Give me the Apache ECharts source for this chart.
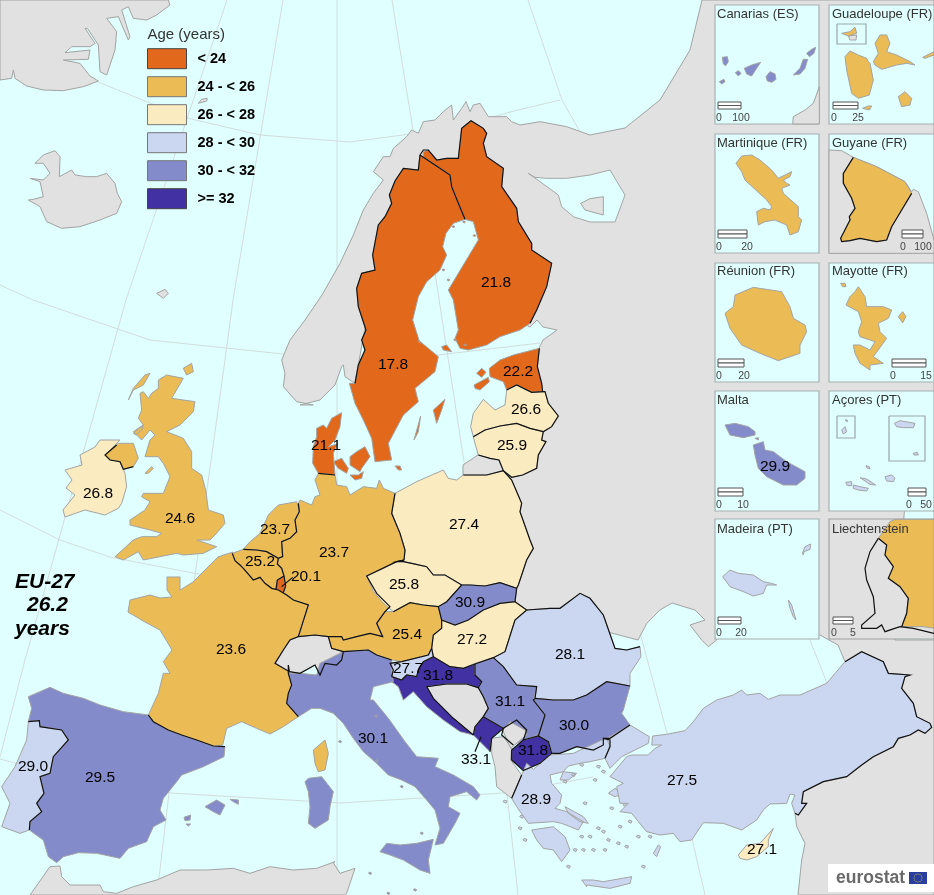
<!DOCTYPE html>
<html>
<head>
<meta charset="utf-8">
<title>Age (years)</title>
<style>html,body{margin:0;padding:0;background:#e0ffff}#chart_container{width:934px;height:895px}</style>
<script src="https://cdn.jsdelivr.net/npm/echarts@6/dist/echarts.min.js"></script>
</head>
<body>
<div id="chart_container"></div>
<script>
"use strict";

// the figures printed on the map
const countries = ['Finland','Sweden','Estonia','Latvia','Lithuania','Denmark','Poland','United Kingdom','Ireland','Netherlands','Germany','Belgium','Luxembourg','Czechia','Austria','Slovakia','Hungary','Romania','Slovenia','Croatia','Serbia','Bulgaria','North Macedonia','Montenegro','Italy','Spain','Portugal','France','Greece','Turkey','Cyprus','Malta'];
const ages = [21.8,17.8,22.2,26.6,25.9,21.1,27.4,24.6,26.8,23.7,23.7,25.2,20.1,25.8,25.4,30.9,27.2,28.1,27.7,31.8,31.1,30.0,31.8,33.1,30.1,29.5,29.0,23.6,28.9,27.5,27.1,29.9];
// legend class as coloured on the map (index into classLabels)
const ageClass = [0,0,0,2,2,0,2,1,2,1,1,1,0,2,1,4,2,3,3,5,4,4,5,5,4,4,3,1,3,3,2,4];
const classLabels = ['< 24','24 - < 26','26 - < 28','28 - < 30','30 - < 32','>= 32'];
const classColors = ['#e2681b','#ebbc55','#fbebc0','#cbd7f0','#838bcb','#4131a2'];

const labelAt = [[496,283],[393,365],[518,372],[526,410],[512,446],[326,446],[464,525],[180,519],[98,494],[275,530],[334,553],[260,562],[306,577],[404,585],[407,635],[470,603],[472,640],[570,655],[408,669],[438,676],[510,702],[574,726],[533,751],[476,760],[373,739],[100,778],[33,767],[231,650],[536,800],[682,781],[762,850],[775,467]];

const insetTitles = [['Canarias (ES)',717,14],['Guadeloupe (FR)',832,14],['Martinique (FR)',717,143],['Guyane (FR)',832,143],['Réunion (FR)',717,271],['Mayotte (FR)',832,271],['Malta',717,400],['Açores (PT)',832,400],['Madeira (PT)',717,529],['Liechtenstein',832,529]];
// x0, x1, y0, y1, right hand label
const scaleBars = [[718,741,102,109,'100'],[833,858,102,109,'25'],[718,747,230,238,'20'],[902,923,230,238,'100'],[718,744,359,367,'20'],[892,926,359,367,'15'],[718,743,488,496,'10'],[908,926,488,496,'50'],[718,741,617,624,'20'],[833,853,617,624,'5']];
const insetFrames = [[715,5,819,124],[829,5,934,124],[715,134,819,253],[829,134,934,253],[715,263,819,382],[829,263,934,382],[715,391,819,511],[829,391,934,511],[715,519,819,639]];

const crops = {0:[0,0,1],1:[0,0,3],2:[340,100,3],3:[300,340,3],4:[100,360,3],5:[200,500,3],6:[360,560,3],7:[0,660,3],8:[320,680,3],9:[560,640,3],10:[710,0,3],11:[710,255,3],12:[710,510,3]};
function trace(s) {
    let o = crops[0], out = [];
    s.trim().split(/\s+/).forEach(t => {
        if (t[0] === '@') { o = crops[t.slice(1)]; return; }
        let p = t.split(',').map(Number);
        out.push([o[0] + p[0] / o[2], o[1] + p[1] / o[2]]);
    });
    return out;
}
function rect(r) { return [[r[0],r[1]],[r[2],r[1]],[r[2],r[3]],[r[0],r[3]]]; }
function islets(size, s) {
    return trace(s).map(c => [[c[0]-size,c[1]],[c[0]-size*0.4,c[1]-size*0.8],[c[0]+size,c[1]-size*0.3],[c[0]+size*0.5,c[1]+size*0.8]]);
}

const backLand = {
    Greenland: ['@1 0,240 35,235 40,210 45,235 80,258 130,270 190,272 250,260 295,243 270,228 240,190 190,180 265,178 270,150 195,158 215,140 270,140 285,130 255,85 262,85 295,135 300,215 320,225 345,150 350,95 320,55 355,50 385,120 390,110 365,30 385,20 400,55 440,60 470,45 510,15 505,0 0,0'],
    Iceland: ['@1 85,600 100,598 130,590 120,545 90,535 130,540 140,530 150,520 130,490 105,490 130,465 165,452 180,470 178,530 215,510 225,525 260,530 290,530 320,520 345,550 352,580 365,605 350,640 300,660 240,680 185,685 140,665 120,620',
        '@1 470,880 495,868 505,880 490,895', '@1 595,310 605,298 622,295 620,303'],
    Africa: ['@7 90,705 150,620 180,618 185,650 210,675 300,675 310,695 350,700 400,680 470,660 540,630 620,630 700,625 750,640 810,620 880,630 950,625 1005,605 @8 40,548 60,580 105,565 80,640 75,645'],
    East: ['@3 165,130 135,110 130,75 125,80 105,135 60,180 0,195 @4 640,135 590,125 550,80 555,40 545,0 @0 290,340 305,320 322,295 @2 0,490 40,405 70,330 100,280 130,240 100,215 130,170 150,170 160,145 200,110 215,90 235,100 250,65 285,60 310,35 335,15 340,60 365,25 378,5 390,35 400,15 420,10 445,50 500,50 515,65 540,75 600,65 680,80 750,105 @0 625,128 660,100 690,50 702,0 934,0 934,895 798,895 @9 725,660 735,610 710,560 705,520 700,480 800,300 855,65 @0 838,645 820,635 760,625 717,630 @9 470,0 445,20 425,0 @0 690,625 705,620 695,610 685,607 672,603 660,610 647,623 638,640 600,630 560,625 500,610 500,560 500,500 480,480 463,475 463,465 478,455 510,450 530,400 530,360 539,348 543,340 557,330 543,327 537,320 530,327 500,310 470,190 410,190 370,300']
};
const water = {
    WhiteSea: ['@2 565,220 585,232 620,235 680,235 750,225 @0 610,170 625,195 615,222 590,222 @2 750,365 700,350 665,320 655,285 600,245'],
    Caspian: ['905,505 934,500 934,640 895,640 900,560']
};
const outsideEU = {
    Onega: ['@2 722,310 750,296 790,290 790,345 735,330'],
    Switzerland: ['@5 225,490 250,450 270,420 295,410 345,405 385,410 395,445 430,455 425,480 410,495 375,490 360,525 345,495 300,520 268,515'],
    Bosnia: ['@6 200,380 260,372 320,372 355,383 370,410 385,445 370,470 345,500 340,525 280,475 220,415'],
    Albania: ['@8 515,175 550,170 575,205 572,240 605,285 590,320 575,355 530,320 525,260 515,220'],
    Andorra: ['@7 590,238 603,238 605,247 592,246']
};
const insetGrey = {
    CanariasAfrica: ['@10 248,372 250,350 285,330 310,310 328,260 328,372'],
    GuyaneLand: ['@10 357,450 395,452 430,472 500,500 585,545 605,575 610,568 625,575 650,640 672,720 672,760 357,760'],
    SaintMartinNL: ['@10 415,108 440,105 438,120 420,120'],
    LiechtensteinBox: [rect([829,519,934,639])]
};

const countryShapes = {
    Finland: ['@2 250,155 265,150 290,180 320,175 355,175 365,85 393,62 430,85 440,100 430,130 440,170 490,205 485,260 530,325 535,365 575,430 575,450 635,490 620,560 590,630 570,670 540,690 480,710 440,735 385,750 360,745 345,715 355,690 340,600 325,570 355,520 385,470 415,420 400,365 375,358 355,310 335,260 330,225 285,195 250,170',
        '@3 425,20 440,15 455,35 430,30', ...islets(1.3,'@2 403,407 340,380 372,366 310,510 325,540 345,720 375,735')],
    Sweden: ['@2 240,165 285,195 330,225 335,260 355,310 375,358 340,370 318,400 308,440 320,465 300,510 260,545 235,590 218,660 240,730 @3 355,0 415,50 405,95 345,145 355,185 310,225 265,310 275,360 225,365 215,295 190,240 165,190 148,130 165,130 175,75 195,30 185,0 @2 78,690 55,620 50,565 65,520 105,510 98,465 115,375 135,350 155,310 148,285 165,243 190,205 235,210',
        '@3 400,210 435,178 425,210 410,250', '@3 342,300 362,228 355,275', '@3 285,378 300,378 305,390 295,390'],
    Estonia: ['@3 568,85 600,60 640,45 718,25 712,80 725,130 728,155 695,157 650,135 620,150 610,125 570,110', '@3 522,135 565,112 568,125 540,150 525,145', '@3 530,100 545,85 558,97 545,112'],
    Latvia: ['@3 512,260 520,220 550,178 585,210 615,195 620,150 650,135 695,157 735,155 745,190 775,228 755,260 730,275 690,265 650,250 600,258 555,270 520,290'],
    Lithuania: ['@3 520,290 555,270 600,258 650,250 690,265 730,275 725,300 738,305 715,345 710,385 668,405 635,412 610,392 597,360 570,355 535,345 525,310'],
    Denmark: ['@3 50,265 70,255 80,265 95,235 125,218 120,260 105,300 85,320 112,312 100,340 105,405 55,400 38,370 40,320 50,290', '@3 100,365 125,355 145,385 140,400 115,385', '@3 150,350 170,335 195,320 210,350 185,385 180,395 150,375', '@3 150,405 175,405 190,395 185,415 165,420'],
    Poland: ['@3 285,460 350,425 430,390 445,415 470,420 490,405 560,405 610,392 635,420 665,490 660,515 690,600 700,625 @6 500,0 475,75 470,85 420,68 375,78 330,75 305,75 255,45 220,45 200,20 155,10 130,5 110,5 @5 612,180 615,150 600,100 575,40'],
    'United Kingdom': ['@4 175,60 200,45 250,55 215,115 285,125 280,155 240,195 200,215 250,235 275,275 275,325 305,345 318,395 325,450 370,465 375,490 345,525 330,540 290,540 350,560 310,580 250,585 230,580 180,590 130,600 115,575 70,600 45,590 100,540 125,530 170,530 185,520 150,510 90,495 90,480 135,450 150,425 125,410 130,400 190,400 210,350 190,310 175,290 135,290 150,240 165,225 150,210 125,240 100,215 130,195 115,175 125,150 120,100 130,95 145,115 155,100 175,85',
        '@4 85,120 100,85 135,45 150,40 130,75 100,90', '@4 15,285 55,250 100,250 115,295 100,320 70,328 60,305 30,300', '@4 135,340 155,320 160,325 145,340', '@4 250,25 275,10 280,35 260,45', '@4 100,220 130,195 125,210 108,225'],
    Ireland: ['@4 60,240 15,285 30,300 60,305 70,328 75,340 80,380 65,430 55,445 @0 105,515 85,510 65,517 63,510 75,495 66,488 72,480 65,470 82,465 80,455 95,447 100,440'],
    Netherlands: ['@5 130,148 150,125 180,100 205,45 235,15 290,5 298,35 285,60 290,95 270,115 245,125 248,170 235,175 200,155 170,150'],
    Germany: ['@3 0,480 35,495 45,470 60,465 45,420 55,400 105,405 110,435 140,440 150,465 190,440 230,445 238,420 250,445 285,460 @5 575,40 600,100 615,150 612,180 590,185 500,228 530,280 570,320 555,335 530,370 548,410 510,400 470,410 430,420 425,410 385,410 345,405 295,410 325,315 280,300 260,285 250,278 257,258 250,228 245,205 232,192 235,175 248,170 245,125 270,115 290,95 285,60 298,35 295,10'],
    Belgium: ['@5 97,160 130,148 170,150 200,155 235,175 232,192 245,205 252,228 232,240 228,268 215,265 195,250 180,232 160,240 130,205 120,195 105,182'],
    Luxembourg: ['@5 232,240 250,228 257,258 250,278 232,272 228,265'],
    Czechia: ['@6 20,48 60,30 110,5 130,5 155,10 200,20 220,45 255,45 305,75 260,125 235,140 190,135 150,128 100,155 70,130 40,95'],
    Austria: ['@6 100,155 150,128 190,135 235,140 245,180 245,205 220,225 215,265 205,285 125,305 96,300 @5 530,465 505,450 430,455 395,445 385,410 425,410 430,420 470,410 510,400 548,410 530,370 555,335',
        '@12 505,85 540,35 555,28 672,28 672,355 640,350 600,350 575,350 590,310 595,265 570,230 535,205 550,170 525,135 530,105'],
    Slovakia: ['@6 305,75 330,75 375,78 420,68 470,85 465,125 420,130 370,150 325,180 285,195 245,180 235,140 260,125'],
    Hungary: ['@6 245,180 285,195 325,180 370,150 420,130 465,125 500,150 465,180 435,275 400,293 345,310 310,325 270,320 220,290 215,265 220,225 245,205'],
    Romania: ['@6 400,293 435,275 465,180 500,150 570,145 600,145 660,100 690,115 730,165 765,265 800,270 840,260 843,290 810,340 810,378 740,365 680,405 640,420 580,420 525,415 530,380 470,375 430,320'],
    Slovenia: ['@6 90,310 125,305 205,285 215,265 220,290 190,305 175,330 170,350 140,345 125,360 95,350 100,330'],
    Croatia: ['@6 190,305 220,290 270,320 310,325 345,312 345,345 365,365 355,383 320,372 260,372 200,380 220,415 280,475 340,525 300,515 250,480 200,440 160,395 130,420 115,380 95,365 95,350 125,360 140,345 170,350 175,330'],
    Serbia: ['@6 345,312 400,293 430,320 470,375 530,380 520,420 555,465 535,525 490,540 460,555 430,505 370,470 385,445 370,410 355,383 365,365 345,345'],
    Bulgaria: ['@6 525,415 580,420 640,420 680,405 740,365 810,378 790,450 785,460 810,495 750,535 730,535 730,555 700,570 650,560 600,580 575,580 565,545 535,528 555,465 520,420'],
    'North Macedonia': ['@6 455,570 490,540 535,528 565,545 575,580 540,610 490,632 455,600'],
    Montenegro: ['@6 370,470 430,505 395,535 390,575 340,525 345,500'],
    Italy: ['@5 265,520 300,520 350,525 360,490 430,455 505,450 530,465 575,480 575,510 580,545 520,560 510,600 @8 160,60 205,115 255,185 290,230 355,235 345,260 400,285 460,320 480,345 470,360 440,335 390,350 385,380 420,400 405,430 370,490 345,495 360,445 345,390 320,360 285,320 245,300 205,285 170,250 130,215 100,175 70,130 40,100 0,85 @7 935,145 895,170 860,130 865,100 875,75 865,40',
        '@8 180,515 200,490 240,495 290,490 340,478 325,540 330,580 300,570 250,540 210,525', '@7 915,365 925,355 965,350 1000,395 990,440 985,480 945,505 925,490 930,440 925,395', ...islets(1.5,'@8 60,185 245,320 305,460 205,640 285,630 150,580 170,243 168,108')],
    Spain: ['@7 85,110 150,82 190,100 250,115 300,135 370,155 445,165 460,185 505,210 545,225 590,240 640,258 675,260 672,290 610,320 545,345 530,365 490,415 480,450 498,480 460,500 440,545 385,565 360,595 290,580 235,578 190,590 170,608 145,590 130,540 88,510 90,485 125,455 110,430 132,400 120,350 150,340 160,290 205,240 185,210 120,200 118,182 85,185 95,145',
        '@7 615,440 650,420 675,435 660,465 640,455', '@7 690,418 715,420 715,433 700,425', '@7 552,472 572,465 570,480 555,482', '@7 558,492 572,492 565,498',
        '@10 28,245 42,238 45,245 35,252', '@10 37,172 52,170 55,185 47,197 40,192', '@10 76,218 85,212 93,220 85,228', '@10 103,205 125,195 152,187 140,205 125,228 110,222', '@10 168,230 180,215 195,222 198,238 185,247 172,243', '@10 250,225 270,205 280,178 293,178 285,205 270,222', '@10 290,160 305,148 317,142 312,160 298,170'],
    Portugal: ['@7 85,185 118,182 120,200 185,210 205,240 160,290 150,340 120,350 132,400 110,430 125,455 90,485 88,510 60,520 5,500 30,430 15,400 5,380 45,320 80,240',
        '@11 395,525 405,515 410,530 400,537', '@11 405,495 412,495 412,500', '@11 553,505 570,497 615,505 610,518 580,518 560,515', '@11 610,595 622,592 625,600 612,600', '@11 468,632 478,635 480,642 470,638', '@11 450,668 470,672 497,690 480,688', '@11 525,665 545,660 555,670 550,680 530,678', '@11 407,682 425,680 425,692 412,692', '@11 430,690 450,695 475,700 470,708 445,705 430,700',
        '@12 38,200 60,180 85,190 130,195 160,215 185,220 200,225 170,225 160,250 130,258 100,245 60,230', '@12 277,130 285,110 302,102 300,118 282,125 280,135', '@12 235,270 245,285 258,330 250,320 240,295'],
    France: ['@7 445,165 475,100 490,40 510,40 490,5 @0 172,650 160,630 145,622 128,612 130,600 150,595 160,598 172,597 167,590 167,577 180,577 180,590 193,582 218,557 233,552 @5 97,160 105,182 120,195 130,205 160,240 180,232 195,250 215,265 235,270 260,285 280,300 325,315 295,410 270,420 250,450 225,490 268,515 @7 865,15 865,40 875,75 865,100 860,130 895,170 850,200 810,222 770,205 725,185 680,205 668,255 640,258 590,240 545,225 505,210 460,185',
        '@7 940,270 975,240 985,280 975,330 955,335 945,310',
        '@10 405,170 420,153 445,165 470,175 475,185 480,190 490,240 478,285 445,295 425,280 410,210', '@10 490,185 505,160 495,130 510,105 530,105 540,130 530,155 560,165 600,185 615,195 590,190 560,195 515,208 495,195', '@10 565,290 585,275 605,295 600,315 575,320', '@10 458,325 475,318 485,318 478,330', '@10 638,172 672,155 672,165 645,175', '@10 395,100 420,95 435,82 440,100 415,108',
        '@10 78,490 95,468 125,465 150,480 185,510 205,535 225,525 245,515 240,530 220,540 230,550 240,555 215,565 220,580 265,620 265,650 275,660 265,695 240,705 230,675 195,660 165,665 145,675 140,635 160,625 180,630 185,620 170,600 105,540 95,515',
        '@10 430,472 500,500 585,545 605,580 575,630 545,680 530,720 500,725 450,715 420,722 395,725 392,715 420,660 418,650 435,625 425,595 400,550 400,520',
        '@11 45,175 70,155 75,120 130,97 215,110 240,155 250,190 285,210 290,230 270,270 270,295 205,317 150,295 95,270 60,220',
        '@11 408,150 420,125 435,110 445,95 465,125 470,155 520,155 545,165 535,190 505,205 510,230 530,250 490,305 520,325 480,330 480,345 450,325 435,295 430,270 450,270 480,285 495,260 450,245 445,230 455,200 445,170', '@11 565,185 578,170 588,185 578,203', '@11 392,85 405,85 408,95 398,95'],
    Greece: ['@8 575,355 605,285 620,250 640,268 690,225 760,220 850,178 870,175 870,195 855,235 810,245 780,250 745,258 730,275 690,285 695,310 725,345 720,370 705,385 740,395 790,425 775,450 725,430 700,425 625,430 590,380',
        '@8 730,275 770,280 745,300 720,300', '@8 635,450 700,440 735,470 750,510 725,545 700,510 670,505 650,480', '@8 735,380 790,410 805,430 780,425 745,400',
        '@9 65,720 100,720 130,725 215,710 210,730 150,745 80,735 @8 800,620 785,600', '@9 145,460 165,445 188,462 165,470', '@9 280,640 295,615 302,620 290,650',
        ...islets(2,'@9 65,375 115,380 130,395 105,420 40,405 15,425 75,490 155,505 195,495 210,545 180,560 115,565 130,575 90,590 65,590 145,600 175,610 235,590 270,590 100,630 135,630 200,620 250,680 25,680 70,630 45,630 @8 555,365 600,445 615,480 605,410')],
    Turkey: ['@9 278,288 320,283 375,272 400,245 430,205 470,180 520,165 545,150 560,165 600,160 625,178 660,165 720,165 800,130 855,65 905,35 970,65 985,100 1050,105 1035,110 1025,145 1060,190 1070,230 1110,250 1115,262 1095,280 1075,270 1050,285 1015,295 1000,320 940,350 905,375 860,410 790,425 730,455 725,490 740,490 715,525 705,520 695,490 705,465 690,462 680,490 630,492 610,510 590,540 545,570 490,550 430,548 395,600 360,605 340,580 300,585 260,575 235,545 215,520 180,515 205,490 180,490 170,440 190,430 150,410 200,350 215,345 265,345 285,325 305,315 275,315',
        '@9 140,295 210,255 268,290 265,310 225,330 185,350 150,385 135,355 150,320'],
    Cyprus: ['@9 535,645 560,615 600,610 640,565 625,600 625,620 590,650 560,660 540,655'],
    Malta: ['@11 45,510 75,505 115,515 135,530 135,540 100,548 60,540', '@11 135,550 145,548 145,555', '@11 130,570 160,560 165,585 190,590 230,620 285,650 285,670 260,690 220,690 170,665 145,640 135,600']
};
const lateGrey = {Kosovo: ['@8 548,150 570,125 615,150 620,165 595,185 572,205']};

const graticule = [
    '227,0 126,300 25,660 0,757',
    '283,0 233,300 225,360 193,590 165,827 157,895',
    '337,0 337,895',
    '392,0 413,130 435,273 465,468 508,803 518,895',
    '528,0 562,100 579,130 810,640 827,683',
    '590,440 642,640 667,733 693,843 705,895',
    '98,82 187,118 260,135 350,142 403,135 483,120 510,112 560,100',
    '0,285 33,300 150,340 340,360 438,355 540,343',
    '0,510 60,540 110,557 193,573 300,590',
    '0,759 40,770 170,793 340,803 503,793 560,783 593,777'
];
const borderLines = [
    '@3 165,130 175,75 195,30 185,0 @2 78,690 55,620 50,565 65,520 105,510 98,465 115,375 135,350 155,310 148,285 165,243 190,205 235,210 240,165',
    '@2 240,165 285,195 330,225 335,260 355,310 375,358',
    '@2 240,165 250,150 265,150 290,180 320,175 355,175 365,85 393,62 430,85 440,100 430,130 440,170 490,205 485,260 530,325 535,365 575,430 575,450 635,490 620,560 590,630 570,670',
    '@3 718,25 712,80 725,130 728,155 695,157 650,135 620,150',
    '@3 728,155 735,155 745,190 775,228 755,260 730,275 725,300 738,305 715,345 710,385 668,405 635,412 610,392 597,360 570,355 535,345',
    '@3 520,290 555,270 600,258 650,250 690,265 730,275',
    '@3 490,405 560,405 610,392 635,420 665,490 660,515 690,600 700,625 @6 500,0 475,75 470,85 420,68 375,78 330,75 305,75 255,45 220,45 200,20 155,10 130,5 110,5 @5 612,180 615,150 600,100 575,40 @3 285,460',
    '@3 55,400 105,405',
    '@4 50,255 15,285 30,300 60,305 70,328 100,320',
    '@7 85,185 118,182 120,200 185,210 205,240 160,290 150,340 120,350 132,400 110,430 125,455 90,485 88,510',
    '@7 445,165 460,185 505,210 545,225 590,240 640,258 675,260',
    '@5 97,160 105,182 120,195 130,205 160,240 180,232 195,250 215,265 235,270 260,285 280,300 325,315 295,410 270,420 250,450 225,490 268,515 @7 865,15 865,40 875,75 865,100 860,130 895,170',
    '@5 268,515 300,520 345,495 360,525 375,490 410,495 425,480 430,455 505,450 530,465 575,480',
    '@5 295,410 345,405 385,410 395,445 430,455',
    '@5 385,410 425,410 430,420 470,410 510,400 548,410 530,370 555,335 570,320 530,280 500,228 590,185 612,180',
    '@5 130,148 170,150 200,155 235,175 248,170 245,125 270,115 290,95 285,60 298,35 295,10',
    '@5 235,175 232,192 245,205 252,228 257,258 250,278',
    '@5 252,228 232,240 228,268',
    '@6 305,75 260,125 235,140 190,135 150,128 100,155',
    '@6 470,85 465,125 420,130 370,150 325,180 285,195 245,180 235,140',
    '@6 245,180 245,205 220,225 215,265 205,285 125,305 90,310 100,330 95,350',
    '@6 95,350 125,360 140,345 170,350 175,330 190,305 220,290 215,265',
    '@6 220,290 270,320 310,325 345,312 400,293 435,275 465,180 500,150 465,125',
    '@6 500,150 570,145 600,145 660,100 690,115 730,165 765,265 800,270 840,260',
    '@6 400,293 430,320 470,375 530,380 525,415',
    '@6 525,415 580,420 640,420 680,405 740,365 810,378',
    '@6 345,312 345,345 365,365 355,383 320,372 260,372 200,380 220,415 280,475 340,525',
    '@6 355,383 370,410 385,445 370,470 345,500 340,525',
    '@6 370,470 430,505 395,535 390,575',
    '@6 525,415 520,420 555,465 535,528',
    '@6 455,570 490,540 535,528 565,545 575,580 540,610 490,632 455,600 455,570',
    '@6 430,505 425,525 460,555',
    '@6 430,505 470,480 500,510 490,540',
    '@8 605,285 590,320 575,355',
    '@6 575,580 600,580 650,560 700,570 730,555 730,535 750,535 810,495',
    '@9 130,295 150,300 150,320 135,355',
    '@9 855,65 905,35 970,65 985,100 1050,105 1035,110 1025,145 1060,190 1070,230 1110,250 1115,262 1095,280 1075,270 1050,285 1015,295 1000,320 940,350 905,375 860,410 790,425 730,455 725,490 740,490 715,525 705,520',
    // leader lines of the small countries
    '@5 245,260 278,232', '@8 483,170 465,215',
    // inset borders
    '@10 430,472 400,520 400,550 425,595 435,625 418,650 420,660 392,715 395,725 420,722 450,715 500,725 530,720 545,680 575,630 605,580',
    '@12 505,85 480,125 465,175 470,210 490,260 495,310 455,345 455,355 500,355 515,345 525,365 570,350 610,355 672,370',
    '@12 505,85 530,105 525,135 550,170 535,205 570,230 595,265 590,310 575,350'
];
const subFrames = [[837,24,866,44],[837,416,855,438],[889,416,925,461]];

// ---- build the map
let feature = (name, rings) => ({
    type: 'Feature', properties: {name: name},
    geometry: {type: 'MultiPolygon', coordinates: rings.map(r => {
        let pts = typeof r === 'string' ? trace(r) : r;
        return [pts.concat([pts[0]])];
    })}
});
let features = [];
let addAll = obj => Object.keys(obj).forEach(k => features.push(feature(k, obj[k])));
addAll(backLand);
addAll(water);
addAll(outsideEU);
features.push(feature('frames', insetFrames.map(rect)));
addAll(insetGrey);
addAll(countryShapes);
addAll(lateGrey);
echarts.registerMap('europe', {type: 'FeatureCollection', features: features});

let seaRegion = n => ({name: n, itemStyle: {areaColor: '#e0ffff', borderColor: '#a6a6a6'}});
let regions = Object.keys(water).map(seaRegion);
regions.push({name: 'frames', itemStyle: {areaColor: '#e0ffff', borderColor: '#a8b0b0', borderWidth: 1.2}});
regions.push({name: 'LiechtensteinBox', itemStyle: {areaColor: '#e1e1e1', borderColor: '#a0a0a0', borderWidth: 1.2}});

let chartDom = document.getElementById('chart_container');
let myChart = echarts.init(chartDom);

const ff = '"Liberation Sans", Arial, sans-serif';
let graphics = [];
let txt = (text, x, y, size, extra) => graphics.push({type: 'text', silent: true, z: 20, x: x, y: y,
    style: Object.assign({text: text, font: size + 'px ' + ff, fill: '#333', verticalAlign: 'middle', align: 'left'}, extra || {})});

txt('Age (years)', 147.5, 35, 15);
classLabels.forEach((c, i) => graphics.push({type: 'rect', silent: true, z: 20,
    shape: {x: 147.5, y: 48.7 + i * 28, width: 39, height: 20},
    style: {fill: null, stroke: i === 5 || i === 0 ? '#444' : '#777', lineWidth: 1}}));
txt('EU-27', 15, 582, 21, {font: 'italic bold 21px ' + ff, fill: '#000'});
txt('26.2', 27, 605, 21, {font: 'italic bold 21px ' + ff, fill: '#000'});
txt('years', 15, 629, 21, {font: 'italic bold 21px ' + ff, fill: '#000'});
insetTitles.forEach(t => txt(t[0], t[1], t[2], 13));
scaleBars.forEach(b => {
    graphics.push({type: 'rect', silent: true, z: 20, shape: {x: b[0], y: b[2], width: b[1] - b[0], height: (b[3] - b[2]) / 2}, style: {fill: '#fff', stroke: '#555', lineWidth: 1}});
    graphics.push({type: 'rect', silent: true, z: 20, shape: {x: b[0], y: (b[2] + b[3]) / 2, width: b[1] - b[0], height: (b[3] - b[2]) / 2}, style: {fill: '#fff', stroke: '#555', lineWidth: 1}});
    txt('0', b[0] + 1, b[3] + 9, 10.5, {align: 'center', fill: '#444'});
    txt(b[4], b[1], b[3] + 9, 10.5, {align: 'center', fill: '#444'});
});
// eurostat logo
graphics.push({type: 'rect', silent: true, z: 20, shape: {x: 828, y: 864, width: 106, height: 28}, style: {fill: '#fff'}});
txt('eurostat', 836, 878, 17.5, {font: 'bold 17.5px ' + ff, fill: '#6a6a6a'});
graphics.push({type: 'rect', silent: true, z: 21, shape: {x: 909, y: 872, width: 18, height: 12}, style: {fill: '#2a3f9d'}});
for (let i = 0; i < 12; i++) {
    let a = i * Math.PI / 6;
    graphics.push({type: 'circle', silent: true, z: 22, shape: {cx: 918 + 4 * Math.cos(a), cy: 878 + 4 * Math.sin(a), r: 0.5}, style: {fill: '#e6d84a'}});
}

let optEchart = {
    backgroundColor: '#e0ffff',
    animation: false,
    textStyle: {fontFamily: ff},
    geo: {
        map: 'europe',
        roam: false,
        silent: true,
        projection: {project: p => p, unproject: p => p},
        boundingCoords: [[0, 0], [934, 895]],
        left: 0, top: 0, width: 934, height: 895,
        itemStyle: {areaColor: '#e1e1e1', borderColor: '#a3a3a3', borderWidth: 1},
        label: {show: false},
        emphasis: {disabled: true},
        regions: regions
    },
    visualMap: {
        type: 'piecewise',
        seriesIndex: 0,
        dimension: 0,
        orient: 'vertical',
        inverse: true,
        left: 147.5, top: 48.7,
        padding: 0,
        itemWidth: 39, itemHeight: 20, itemGap: 8, textGap: 11,
        itemSymbol: 'rect',
        selectedMode: false,
        hoverLink: false,
        textStyle: {fontFamily: ff, fontWeight: 'bold', fontSize: 14.5, color: '#000'},
        pieces: classLabels.map((c, i) => ({value: i, label: c, color: classColors[i]}))
    },
    series: [
        {
            type: 'map', geoIndex: 0, silent: true,
            data: countries.map((c, i) => ({name: c, value: ageClass[i]}))
        },
        {
            type: 'lines', coordinateSystem: 'geo', geoIndex: 0, polyline: true, silent: true, z: -1,
            lineStyle: {color: '#d2dcdc', width: 1, opacity: 1},
            data: graticule.map(g => ({coords: trace(g)}))
        },
        {
            type: 'lines', coordinateSystem: 'geo', geoIndex: 0, polyline: true, silent: true, z: 5,
            lineStyle: {color: '#111', width: 1.2, opacity: 1},
            data: borderLines.map(g => ({coords: trace(g)}))
        },
        {
            type: 'lines', coordinateSystem: 'geo', geoIndex: 0, polyline: true, silent: true, z: 5,
            lineStyle: {color: '#9aa6a6', width: 1.2, opacity: 1},
            data: subFrames.map(r => ({coords: rect(r).concat([[r[0], r[1]]])}))
        },
        {
            type: 'scatter', coordinateSystem: 'geo', geoIndex: 0, silent: true, z: 6,
            symbolSize: 1, itemStyle: {color: 'rgba(0,0,0,0)'},
            label: {show: true, position: 'inside', fontFamily: ff, fontSize: 15.5, color: '#000', opacity: 1,
                formatter: p => p.value[2].toFixed(1)},
            labelLayout: {hideOverlap: false},
            data: ages.map((a, i) => [labelAt[i][0], labelAt[i][1], a])
        }
    ],
    graphic: {elements: graphics}
};
myChart.setOption(optEchart);
</script>
</body>
</html>
